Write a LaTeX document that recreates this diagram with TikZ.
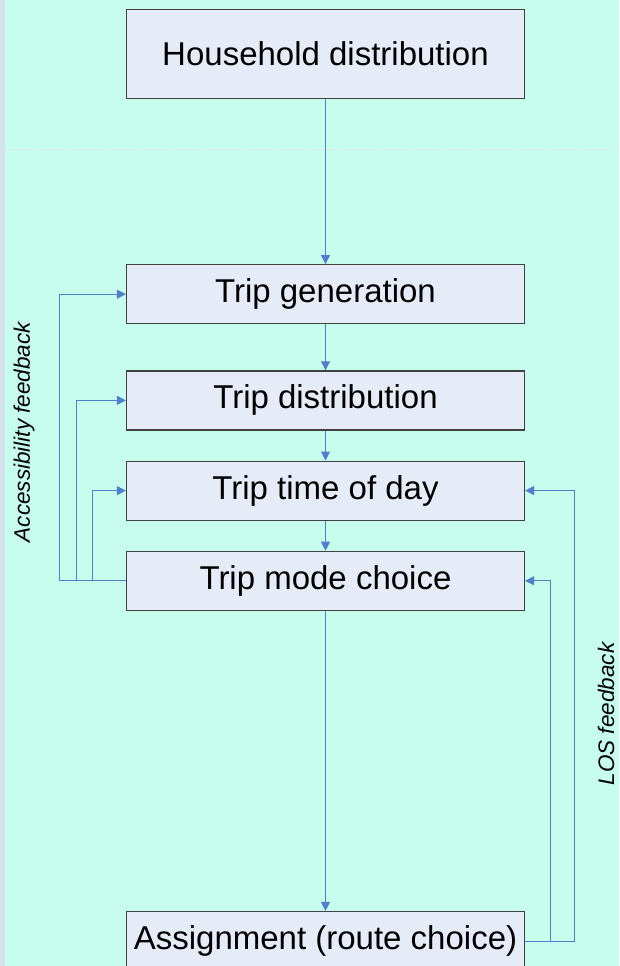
\documentclass[tikz,border=0pt]{standalone}
\usepackage{fontspec}
\setmainfont{Liberation Sans}
\usepackage[HTML]{xcolor}
\usetikzlibrary{positioning, arrows.meta}

\definecolor{mint}{HTML}{C6FDEC}
\definecolor{boxfill}{HTML}{E6ECF7}
\definecolor{boxline}{HTML}{404040}
\definecolor{flow}{HTML}{4F7FCC}
\definecolor{strip}{HTML}{D5E1EE}
\definecolor{guide}{HTML}{D8ECEE}

\tikzset{
  stage/.style={draw=boxline, line width=1.2pt, fill=boxfill, minimum width=398pt,
    minimum height=59pt, inner sep=0pt, font=\fontsize{33}{38}\selectfont},
  flowarrow/.style={-{Triangle[length=9pt, width=9pt]}, color=flow, line width=1pt},
  feedlabel/.style={font=\itshape\fontsize{22.5}{26}\selectfont, rotate=90}
}

\begin{document}
\begin{tikzpicture}[x=1pt, y=-1pt]
% Background
\useasboundingbox (0,0) rectangle (619,966);
\clip (0,0) rectangle (619,966);
\fill[mint] (0,0) rectangle (619,966);
\fill[strip] (0,0) rectangle (5,966);
\draw[guide, line width=1pt, dash pattern=on 30pt off 4pt] (5,149) -- (619,149);
% Stages
\node[stage, minimum height=89pt] (hh) at (325.5,54) {Household distribution};
\node[stage, below=165pt of hh] (gen) {Trip generation};
\node[stage, below=46pt of gen] (dist) {Trip distribution};
\node[stage, below=30pt of dist] (tod) {Trip time of day};
\node[stage, below=30pt of tod] (mode) {Trip mode choice};
\node[stage, below=300pt of mode] (assign) {Assignment (route choice)};
% Main flow
\foreach \a/\b in {hh/gen, gen/dist, dist/tod, tod/mode, mode/assign}{
\draw[flowarrow] (\a) -- (\b);
}
% Accessibility feedback
\foreach \dx/\b in {66/gen, 49/dist, 33/tod}{
\draw[flowarrow] (mode.west) -- ++(-\dx,0) |- (\b.west);
}
% LOS feedback
\foreach \dx/\b in {49/tod, 25/mode}{
\draw[flowarrow] (assign.east) -- ++(\dx,0) |- (\b.east);
}
\node[feedlabel] (acc) at (24,432) {Accessibility feedback};
\node[feedlabel] (los) at (606,714) {LOS feedback};
\end{tikzpicture}
\end{document}
